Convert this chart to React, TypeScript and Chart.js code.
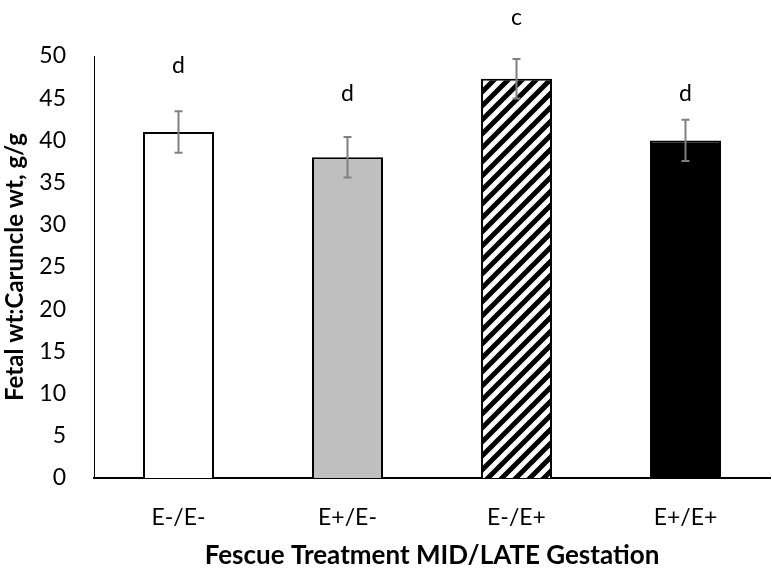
import React, { useEffect, useRef } from "react";
import { Chart, registerables } from "chart.js";

Chart.register(...registerables);

const categories = ["E-/E-", "E+/E-", "E-/E+", "E+/E+"];
const means = [41.0, 38.0, 47.3, 40.0];
const errors = [2.45, 2.4, 2.35, 2.45];
const letters = ["d", "d", "c", "d"];
const letterValues = [48.9, 45.6, 54.5, 45.6];
const yTicks = [0, 5, 10, 15, 20, 25, 30, 35, 40, 45, 50];

const FONT = "Lato, 'Open Sans', sans-serif";

function makeHatch(): CanvasPattern | string {
  const s = 14;
  const c = document.createElement("canvas");
  c.width = s;
  c.height = s;
  const g = c.getContext("2d");
  if (!g) return "#000";
  g.fillStyle = "#fff";
  g.fillRect(0, 0, s, s);
  g.strokeStyle = "#000";
  g.lineWidth = 5;
  g.beginPath();
  g.moveTo(-4, s + 4);
  g.lineTo(s + 4, -4);
  g.moveTo(-4, 4);
  g.lineTo(4, -4);
  g.moveTo(s - 4, s + 4);
  g.lineTo(s + 4, s - 4);
  g.stroke();
  const p = g.createPattern(c, "repeat");
  return p || "#000";
}

const annotPlugin = {
  id: "annot",
  afterDatasetsDraw(chart: any) {
    const ctx = chart.ctx;
    const meta = chart.getDatasetMeta(0);
    const y = chart.scales.y;
    ctx.save();
    meta.data.forEach((bar: any, i: number) => {
      const x = bar.x;
      const top = y.getPixelForValue(means[i] + errors[i]);
      const bot = y.getPixelForValue(means[i] - errors[i]);
      ctx.strokeStyle = "#808080";
      ctx.lineWidth = 2;
      ctx.beginPath();
      ctx.moveTo(x, top);
      ctx.lineTo(x, bot);
      ctx.moveTo(x - 4, top);
      ctx.lineTo(x + 4, top);
      ctx.moveTo(x - 4, bot);
      ctx.lineTo(x + 4, bot);
      ctx.stroke();
      ctx.fillStyle = "#000";
      ctx.font = `23px ${FONT}`;
      ctx.textAlign = "center";
      ctx.textBaseline = "middle";
      ctx.fillText(letters[i], x, y.getPixelForValue(letterValues[i]));
    });
    ctx.restore();
  },
};

export default function App() {
  const ref = useRef<HTMLCanvasElement>(null);
  useEffect(() => {
    document.body.style.margin = "0";
    if (!ref.current) return;
    const hatch = makeHatch();
    const chart = new Chart(ref.current, {
      type: "bar",
      data: {
        labels: categories,
        datasets: [
          {
            data: means,
            backgroundColor: ["#ffffff", "#bfbfbf", hatch as any, "#000000"],
            borderColor: "#000000",
            borderWidth: 2,
            borderSkipped: "start",
            categoryPercentage: 1,
            barPercentage: 0.42,
          },
        ],
      },
      options: {
        responsive: false,
        animation: false,
        layout: { padding: { top: 56, right: 2, left: 0, bottom: 0 } },
        plugins: {
          legend: { display: false },
          tooltip: { enabled: false },
        },
        scales: {
          x: {
            grid: { display: false, drawTicks: false },
            border: { display: true, color: "#000", width: 2 },
            ticks: {
              color: "#000",
              padding: 26,
              font: { family: FONT, size: 23 },
            },
            title: {
              display: true,
              text: "Fescue Treatment MID/LATE Gestation",
              color: "#000",
              font: { family: FONT, size: 26, weight: "bold" },
              padding: { top: 0, bottom: 0 },
            },
            afterFit(scale: any) {
              scale.height = 93;
            },
          },
          y: {
            min: 0,
            max: 50,
            grid: { display: false, drawTicks: false },
            border: { display: true, color: "#000", width: 1 },
            afterBuildTicks(scale: any) {
              scale.ticks = yTicks.map((v) => ({ value: v }));
            },
            ticks: {
              color: "#000",
              padding: 28,
              font: { family: FONT, size: 23 },
            },
            title: {
              display: true,
              text: "Fetal wt:Caruncle wt, g/g",
              color: "#000",
              font: { family: FONT, size: 24, weight: "bold" },
              padding: { top: 1, bottom: 0 },
            },
            afterFit(scale: any) {
              scale.width = 94;
            },
          },
        },
      },
      plugins: [annotPlugin],
    });
    return () => chart.destroy();
  }, []);
  return (
    <div style={{ position: "absolute", left: 0, top: 0, width: 772, height: 571 }}>
      <canvas ref={ref} width={772} height={571} style={{ display: "block", width: 772, height: 571 }} />
    </div>
  );
}
